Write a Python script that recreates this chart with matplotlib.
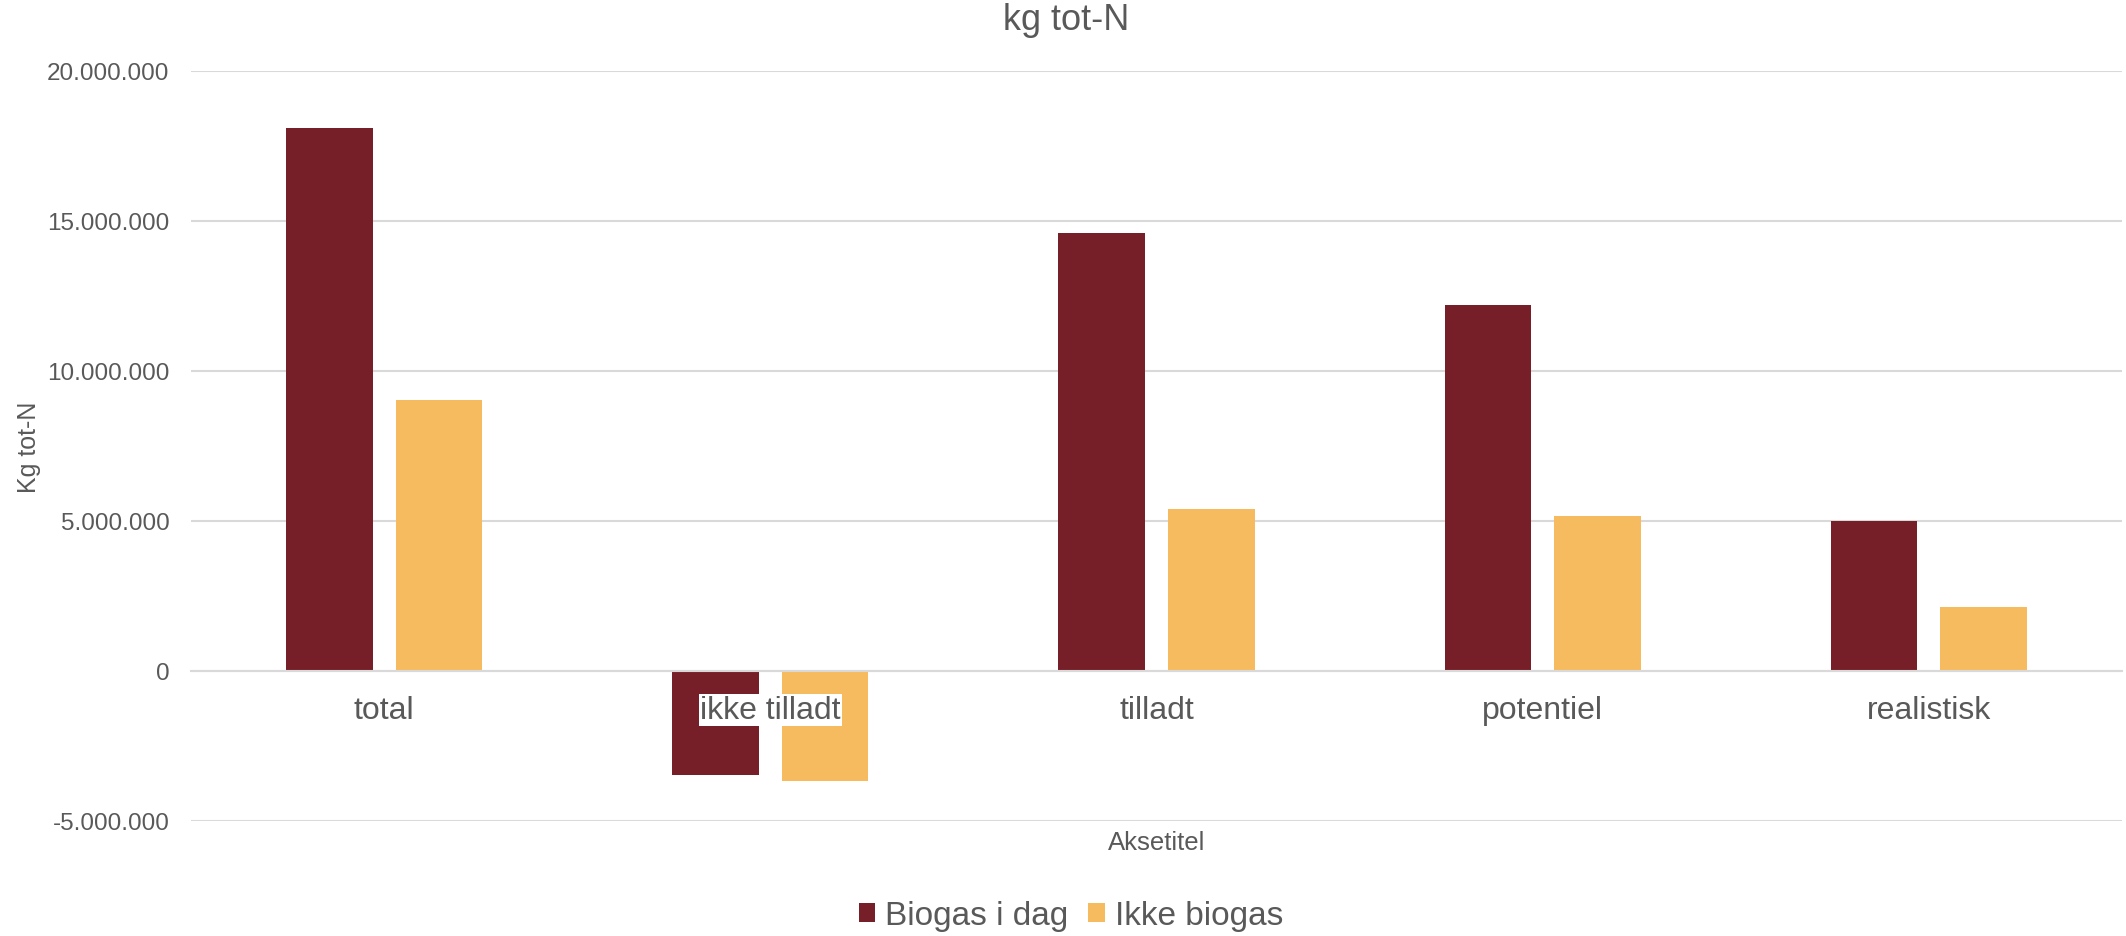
import matplotlib
matplotlib.use("Agg")
import matplotlib.pyplot as plt
import matplotlib.transforms as mtransforms
import numpy as np
from matplotlib.patches import Patch

categories = ["total", "ikke tilladt", "tilladt", "potentiel", "realistisk"]
biogas_i_dag = [18100000, -3480000, 14600000, 12200000, 5000000]
ikke_biogas = [9050000, -3660000, 5400000, 5180000, 2150000]
series_names = ["Biogas i dag", "Ikke biogas"]
yticks = [-5000000, 0, 5000000, 10000000, 15000000, 20000000]

plt.rcParams['font.family'] = ['Liberation Sans', 'DejaVu Sans']
TXT = "#595959"
C1 = "#761F29"
C2 = "#F7BB5F"
GRID = "#D9D9D9"

fig = plt.figure(figsize=(21.26, 9.37), dpi=100)
ax = fig.add_axes([191/2126, 1-822/937, (2122-191)/2126, (822-72)/937])

x = np.arange(len(categories))
w = 0.224
off = 0.142
ax.bar(x - off, biogas_i_dag, width=w, color=C1, zorder=3)
ax.bar(x + off, ikke_biogas, width=w, color=C2, zorder=3)

ax.set_xlim(-0.5, len(categories) - 0.5)
ax.set_ylim(-5000000, 20000000)
ax.set_yticks(yticks)
ax.set_yticklabels([f"{v:,}".replace(",", ".") for v in yticks])
ax.yaxis.grid(True, color=GRID, linewidth=1.5, zorder=0)
ax.set_axisbelow(True)
for s in ["top", "right", "left"]:
    ax.spines[s].set_visible(False)
ax.spines["bottom"].set_position(("data", 0))
ax.spines["bottom"].set_color(GRID)
ax.spines["bottom"].set_linewidth(1.5)
ax.spines["bottom"].set_zorder(4)
ax.tick_params(axis="y", length=0, labelsize=17.5, labelcolor=TXT, pad=15.5)
ax.set_xticks([])

lbl_tr = mtransforms.offset_copy(ax.transData, fig=fig, x=0, y=-39, units="dots")
for xi, cat in zip(x, categories):
    ax.text(xi, 0, cat, transform=lbl_tr, ha="center", va="center", fontsize=23,
            color=TXT, zorder=10,
            bbox=dict(facecolor="white", edgecolor="none", pad=1))

fig.text(1066/2126, 1-21/937, "kg tot-N", ha="center", va="center", fontsize=26, color=TXT)
fig.text(29/2126, 1-447/937, "Kg tot-N", ha="center", va="center", rotation=90, fontsize=18, color=TXT)
fig.text(1157/2126, 1-843/937, "Aksetitel", ha="center", va="center", fontsize=18.5, color=TXT)

handles = [Patch(facecolor=C1), Patch(facecolor=C2)]
leg = fig.legend(handles, series_names, loc="center", bbox_to_anchor=(1071/2126, 1-917/937),
                 ncol=2, frameon=False, fontsize=24, handlelength=0.5, handleheight=0.5,
                 handletextpad=0.3, columnspacing=0.6, labelcolor=TXT)

fig.savefig("out.png", dpi=100)
